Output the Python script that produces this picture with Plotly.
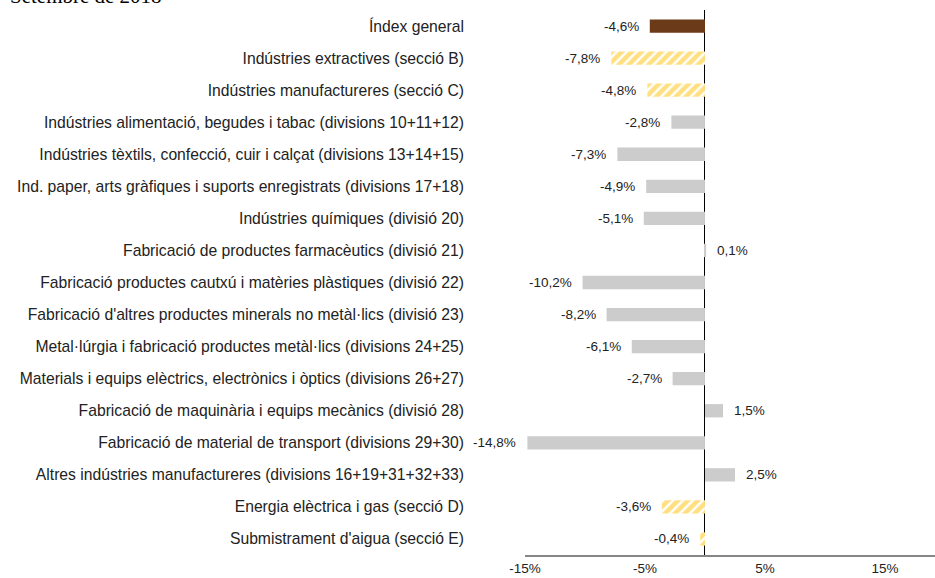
import plotly.graph_objects as go

categories = [
    "Índex general",
    "Indústries extractives (secció B)",
    "Indústries manufactureres (secció C)",
    "Indústries alimentació, begudes i tabac (divisions 10+11+12)",
    "Indústries tèxtils, confecció, cuir i calçat (divisions 13+14+15)",
    "Ind. paper, arts gràfiques i suports enregistrats (divisions 17+18)",
    "Indústries químiques (divisió 20)",
    "Fabricació de productes farmacèutics (divisió 21)",
    "Fabricació productes cautxú i matèries plàstiques (divisió 22)",
    "Fabricació d'altres productes minerals no metàl·lics (divisió 23)",
    "Metal·lúrgia i fabricació productes metàl·lics (divisions 24+25)",
    "Materials i equips elèctrics, electrònics i òptics (divisions 26+27)",
    "Fabricació de maquinària i equips mecànics (divisió 28)",
    "Fabricació de material de transport (divisions 29+30)",
    "Altres indústries manufactureres (divisions 16+19+31+32+33)",
    "Energia elèctrica i gas (secció D)",
    "Submistrament d'aigua (secció E)",
]
values = [-4.6, -7.8, -4.8, -2.8, -7.3, -4.9, -5.1, 0.1, -10.2, -8.2, -6.1, -2.7, 1.5, -14.8, 2.5, -3.6, -0.4]
kinds = ["general", "section", "section", "division", "division", "division", "division", "division",
         "division", "division", "division", "division", "division", "division", "division", "section", "section"]
tick_values = [-15, -5, 5, 15]
tick_labels = ["-15%", "-5%", "5%", "15%"]
title_text = "Setembre de 2018"

BROWN = "#6B3A18"
GRAY = "#CCCCCC"
YELLOW = "#FFC000"
TEXT = "#222222"
FONT = "Liberation Sans, Arial, sans-serif"

fig = go.Figure()
for kind, color, pattern in [
    ("general", BROWN, None),
    ("division", GRAY, None),
    ("section", YELLOW, dict(shape="/", fgcolor=YELLOW, bgcolor="white", size=7, solidity=0.65)),
]:
    ys = [c for c, k in zip(categories, kinds) if k == kind]
    xs = [v for v, k in zip(values, kinds) if k == kind]
    marker = dict(color=color, line=dict(width=0))
    if pattern:
        marker["pattern"] = pattern
    fig.add_trace(go.Bar(y=ys, x=xs, orientation="h", marker=marker, width=0.415,
                         showlegend=False, hoverinfo="skip"))

for c, v in zip(categories, values):
    txt = f"{v:.1f}%".replace(".", ",")
    fig.add_annotation(x=v, y=c, xref="x", yref="y", text=txt, showarrow=False,
                       xanchor="right" if v < 0 else "left",
                       xshift=-9 if v < 0 else 9,
                       font=dict(family=FONT, size=13.5, color=TEXT))

fig.update_layout(
    width=935, height=578,
    margin=dict(l=525, r=0, t=10, b=23, autoexpand=False),
    plot_bgcolor="white", paper_bgcolor="white",
    title=dict(text=title_text, x=10 / 935, xanchor="left", xref="container",
               y=1 - 2.5 / 578, yanchor="bottom", yref="container", pad=dict(t=0, b=0, l=0, r=0),
               font=dict(family="Liberation Serif, Times New Roman, serif", size=21, color="#000000")),
    xaxis=dict(range=[-15, 19.17], tickvals=tick_values, ticktext=tick_labels,
               showgrid=False, zeroline=True, zerolinecolor="#000000", zerolinewidth=1,
               showline=True, linecolor="#868686", linewidth=2, ticks="",
               automargin=False,
               tickfont=dict(family=FONT, size=13.5, color=TEXT)),
    yaxis=dict(categoryorder="array", categoryarray=categories[::-1],
               autorange=False, range=[-0.5, 16.5],
               showgrid=False, zeroline=False, showline=False, ticks="",
               ticklabelstandoff=60, automargin=False,
               tickfont=dict(family=FONT, size=15.7, color=TEXT)),
)

fig.write_html("out.html", config={"displayModeBar": False},
               post_script="document.body.style.margin='0';")
